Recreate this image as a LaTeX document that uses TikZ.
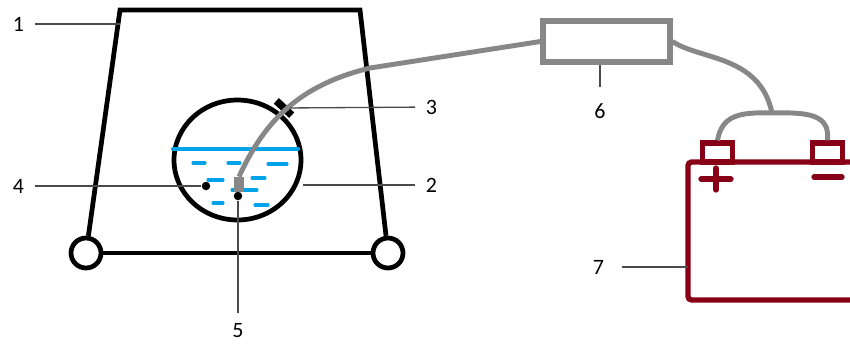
\documentclass[tikz,border=0pt]{standalone}
\usepackage{fontspec}
\setmainfont{Carlito}
\usetikzlibrary{shapes,positioning}

\definecolor{wiregray}{HTML}{878787}
\definecolor{waterblue}{HTML}{00A2E8}
\definecolor{battred}{HTML}{880015}
\definecolor{leadergray}{HTML}{4A4A4A}

\tikzset{
  frame/.style={line width=2.7pt, black},
  foot/.style={circle, draw, line width=2.7pt, fill=white, minimum size=0.6cm, inner sep=0pt},
  flask/.style={ellipse, draw, line width=2.7pt, minimum width=2.54cm, minimum height=2.4cm, inner sep=0pt},
  water/.style={waterblue, line width=2.4pt, line cap=round},
  ripple/.style={waterblue, line width=1.8pt, line cap=round},
  dot/.style={circle, fill=black, minimum size=0.17cm, inner sep=0pt},
  probe/.style={rectangle, fill=wiregray, minimum width=0.2cm, minimum height=0.3cm, inner sep=0pt},
  clamp/.style={rectangle, fill=black, minimum width=0.42cm, minimum height=0.15cm, inner sep=0pt, rotate=-43},
  wire/.style={wiregray, line width=2.8pt},
  ctrlbox/.style={rectangle, draw=wiregray, line width=2.9pt, minimum width=2.54cm, minimum height=0.82cm, inner sep=0pt},
  battline/.style={battred, line width=3pt},
  terminal/.style={rectangle, draw=battred, line width=3pt, minimum width=0.6cm, minimum height=0.38cm, inner sep=0pt},
  leader/.style={leadergray, line width=0.75pt},
  num/.style={inner sep=6pt, font=\fontsize{12.5}{14}\selectfont, text=black}
}

\begin{document}
\begin{tikzpicture}[x=0.02cm, y=-0.02cm]
\useasboundingbox (0,0) rectangle (850,343);

% stand
\coordinate (tl) at (120,10);
\coordinate (tr) at (360,10);
\node[foot] (footL) at (86,253) {};
\node[foot] (footR) at (388,253) {};
\draw[frame] (footL) -- (tl) -- (tr) -- (footR);
\draw[frame] (footL) -- (footR);

% flask with water
\node[flask] (flask) at (237.5,160) {};
\draw[water] (173,149) -- (298,149);
\foreach \xa/\xb/\y in {193/205/163, 228/240/163, 268/287/164, 208/223/180,
                        252/265/178, 232/257/190, 213/223/203, 255/268/205}
  \draw[ripple] (\xa,\y) -- (\xb,\y);
\node[dot] (bead) at (206,186) {};
\node[probe] (probe) at (239,184.5) {};
\node[dot] (tip) at (238,196) {};
\node[clamp] (clamp) at (284,108) {};

% wiring
\node[ctrlbox] (ctrl) at (606.5,41.5) {};
\draw[wire] (probe.north) .. controls (265,120) and (300,85) .. (370,68) -- (ctrl.west);
\coordinate (split) at (772,113);
\draw[wire] (ctrl.east) .. controls (700,60) and (760,55) .. (split);
\node[terminal] (pos) at (717.5,152.5) {};
\node[terminal] (neg) at (827.5,152.5) {};
\draw[wire] (split) .. controls (740,112) and (722,115) .. (pos.north);
\draw[wire] (split) .. controls (810,112) and (830,115) .. (neg.north);

% battery
\coordinate (cell) at (688,162);
\draw[battline, rounded corners=2pt] (850,162) -- (cell) -- (688,300) -- (850,300);
\draw[battline, line cap=round] (701,179) -- (731,179) (716,168) -- (716,190);
\draw[battline, line cap=round] (814,177) -- (842,177);

% labels
\node[num, anchor=east] (n1) at (35,24) {1};
\draw[leader] (n1) -- (n1 -| tl);
\node[num, anchor=west] (n2) at (415,185) {2};
\draw[leader] (n2) -- (n2 -| flask.east);
\node[num, anchor=west] (n3) at (415,107) {3};
\draw[leader] (n3) -- (clamp);
\node[num, anchor=east] (n4) at (35,186) {4};
\draw[leader] (n4) -- (bead);
\node[num, anchor=north] (n5) at (238,313) {5};
\draw[leader] (n5) -- (tip);
\node[num, anchor=north, inner sep=9pt] (n6) at (600,87) {6};
\draw[leader] (n6) -- (n6 |- ctrl.south);
\node[num, anchor=east, inner sep=10pt] (n7) at (622,267) {7};
\draw[leader] (n7) -- (n7 -| cell);
\end{tikzpicture}
\end{document}
